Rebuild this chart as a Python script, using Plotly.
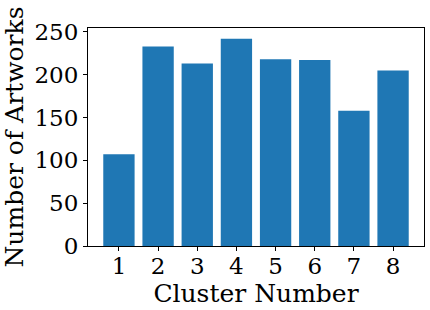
import plotly.graph_objects as go

clusters = [1, 2, 3, 4, 5, 6, 7, 8]
artworks = [107, 233, 213, 242, 218, 217, 158, 205]
x_tick_labels = ["1", "2", "3", "4", "5", "6", "7", "8"]
y_ticks = [0, 50, 100, 150, 200, 250]

font_family = "DejaVu Serif"

fig = go.Figure(go.Bar(x=clusters, y=artworks, marker_color="#1f77b4",
                       marker_line_width=0, width=0.8))

fig.update_layout(
    width=430, height=310,
    margin=dict(l=88, r=6, t=28, b=64),
    paper_bgcolor="white", plot_bgcolor="white",
    font=dict(family=font_family, size=23, color="black"),
    showlegend=False,
)
fig.update_xaxes(
    range=[0.21, 8.79], tickvals=clusters, ticktext=x_tick_labels,
    ticks="outside", ticklen=4, tickwidth=1, tickcolor="black",
    ticklabelstandoff=-5,
    showline=True, linecolor="black", linewidth=1, mirror=True,
    showgrid=False, zeroline=False, automargin=False,
    title=dict(text="Cluster Number", font=dict(size=25), standoff=0),
)
fig.update_yaxes(
    range=[0, 254.5], tickvals=y_ticks,
    ticks="outside", ticklen=4, tickwidth=1, tickcolor="black",
    showline=True, linecolor="black", linewidth=1, mirror=True,
    showgrid=False, zeroline=False, automargin=False,
    title=dict(text="Number of Artworks", font=dict(size=25), standoff=6),
)

fig.write_html(
    "out.html",
    config={"responsive": False, "displayModeBar": False},
    post_script="document.body.style.margin='0';document.body.style.overflow='hidden';",
)
